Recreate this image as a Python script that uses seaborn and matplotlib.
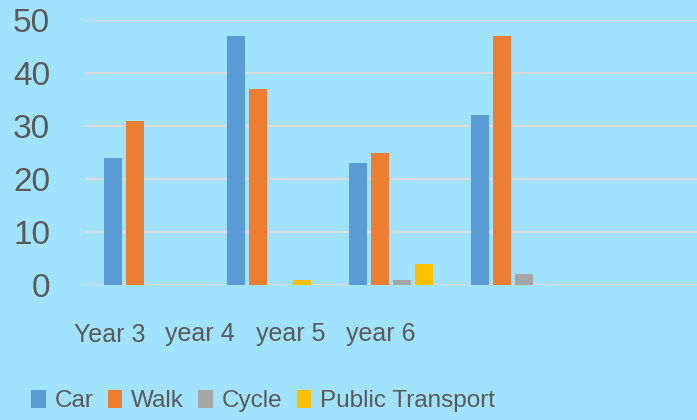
import matplotlib
matplotlib.use("Agg")
import matplotlib.pyplot as plt
import seaborn as sns
import pandas as pd

categories = ["Year 3", "year 4", "year 5", "year 6", ""]
modes = ["Car", "Walk", "Cycle", "Public Transport"]
car = [24, 47, 23, 32]
walk = [31, 37, 25, 47]
cycle = [0, 0, 1, 2]
public_transport = [0, 1, 4, 0]
y_ticks = [0, 10, 20, 30, 40, 50]
colors = ["#5B9BD5", "#ED7D31", "#A5A5A5", "#FFC000"]

rows = []
for mode, vals in zip(modes, [car, walk, cycle, public_transport]):
    for cat, v in zip(categories[:4], vals):
        rows.append({"Year": cat, "Mode": mode, "Value": v})
df = pd.DataFrame(rows)

bg = "#A1E3FD"
txt = "#595959"
sns.set_theme(style="white")
plt.rcParams["font.family"] = ["Liberation Sans", "DejaVu Sans"]

fig = plt.figure(figsize=(6.97, 4.2), dpi=100, facecolor=bg)
ax = fig.add_axes([85 / 697, 1 - 285 / 420, 612 / 697, 265 / 420])
ax.set_facecolor(bg)

sns.barplot(data=df, x="Year", y="Value", hue="Mode", order=categories,
            hue_order=modes, palette=colors, saturation=1, width=0.72, gap=0.18,
            linewidth=0, ax=ax, legend=True)

ax.set_ylim(0, 50)
ax.set_yticks(y_ticks)
ax.set_axisbelow(True)
ax.yaxis.grid(True, color="#D9D9D9", linewidth=1.6)
ax.xaxis.grid(False)
for s in ax.spines.values():
    s.set_visible(False)
ax.tick_params(axis="y", length=0, pad=25, labelsize=24, labelcolor=txt)
ax.tick_params(axis="x", length=0, pad=27, labelsize=18, labelcolor=txt)
# label positions as laid out in the reference (shifted/compressed)
ax.set_xticks([i * 0.74 - 0.30 for i in range(4)], categories[:4])
ax.set_xlabel("")
ax.set_ylabel("")

handles, labels = ax.get_legend_handles_labels()
ax.legend_.remove()
fig.legend(handles, labels, loc="center", bbox_to_anchor=(263 / 697, 1 - 401 / 420),
           ncol=4, frameon=False, fontsize=17.5, labelcolor=txt,
           handlelength=0.6, handleheight=0.75, handletextpad=0.35,
           columnspacing=0.6, borderaxespad=0)

fig.savefig("out.png", dpi=100, facecolor=bg)
